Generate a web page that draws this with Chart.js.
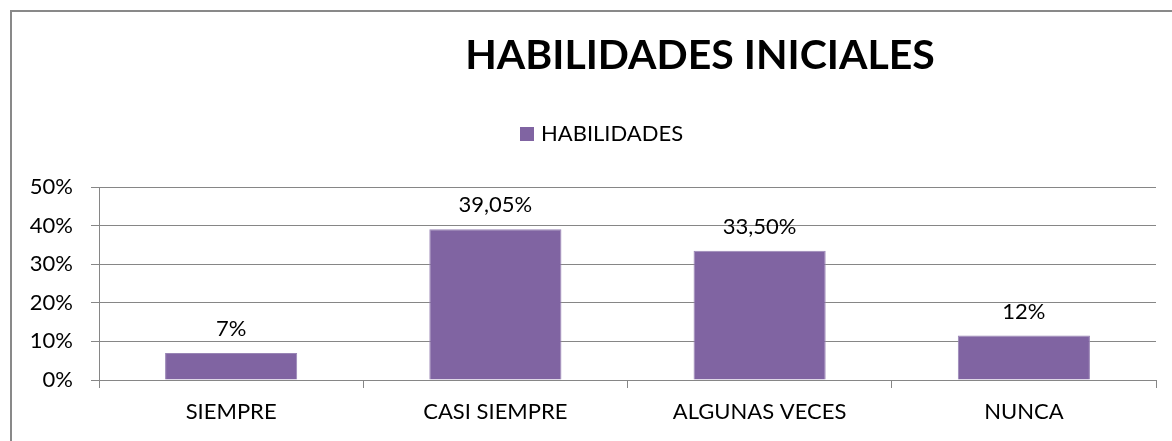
<!DOCTYPE html>
<html><head><meta charset="utf-8">
<script src="https://cdn.jsdelivr.net/npm/chart.js@4/dist/chart.umd.min.js"></script>
<style>
html,body{margin:0;padding:0;background:#fff;overflow:hidden;}
#wrap{position:absolute;left:0;top:0;width:1172px;height:441px;}
#frame{position:absolute;left:10px;top:10px;width:1300px;height:600px;border-left:2px solid #898989;border-top:2px solid #898989;}
#c{position:absolute;left:0;top:0;}
</style></head>
<body><div id="wrap"><div id="frame"></div><canvas id="c" width="1172" height="441"></canvas></div>
<script>
const categories = ["SIEMPRE", "CASI SIEMPRE", "ALGUNAS VECES", "NUNCA"];
const seriesName = "HABILIDADES";
const values = [0.07, 0.3905, 0.335, 0.115];
const valueLabels = ["7%", "39,05%", "33,50%", "12%"];
const chartTitle = "HABILIDADES INICIALES";
const yTicks = [0, 0.1, 0.2, 0.3, 0.4, 0.5];

const FONT = "Lato, 'Open Sans', sans-serif";
const BAR = "#8064A2";
const GRID = "#868686";

const overlay = {
  id: 'overlay',
  afterDatasetsDraw(chart) {
    const ctx = chart.ctx;
    ctx.save();
    // value labels
    ctx.fillStyle = '#000';
    ctx.font = "22px " + FONT;
    ctx.textAlign = 'center';
    ctx.textBaseline = 'alphabetic';
    const meta = chart.getDatasetMeta(0);
    meta.data.forEach((bar, i) => {
      ctx.fillText(valueLabels[i], bar.x, bar.y - 17);
    });
    // title
    ctx.font = "bold 41px " + FONT;
    ctx.textBaseline = 'middle';
    ctx.fillText(chartTitle, 700, 56);
    // legend
    ctx.fillStyle = BAR;
    ctx.fillRect(520, 127, 14, 14);
    ctx.fillStyle = '#000';
    ctx.font = "22px " + FONT;
    ctx.textAlign = 'left';
    ctx.fillText(seriesName, 541, 134);
    ctx.restore();
  }
};

new Chart(document.getElementById('c'), {
  type: 'bar',
  data: {
    labels: categories,
    datasets: [{
      label: seriesName,
      data: values,
      backgroundColor: BAR,
      borderColor: '#9985b5',
      borderWidth: 1,
      categoryPercentage: 0.5,
      barPercentage: 1.0
    }]
  },
  options: {
    responsive: false,
    animation: false,
    devicePixelRatio: 1,
    layout: { padding: { top: 187, right: 16, left: 0, bottom: 0 } },
    plugins: { legend: { display: false }, title: { display: false }, tooltip: { enabled: false } },
    scales: {
      x: {
        offset: true,
        grid: { display: true, drawOnChartArea: false, color: GRID, tickLength: 8, offset: true, lineWidth: 1 },
        border: { display: true, color: GRID, width: 1 },
        ticks: { color: '#000', font: { family: FONT, size: 22 }, padding: 11, maxRotation: 0 },
        afterFit(scale) { scale.height = 61; }
      },
      y: {
        min: 0, max: 0.5,
        afterBuildTicks(scale) { scale.ticks = yTicks.map(v => ({ value: v })); },
        grid: { color: GRID, tickLength: 8, lineWidth: 1 },
        border: { display: true, color: GRID, width: 1 },
        ticks: {
          color: '#000', font: { family: FONT, size: 22 }, padding: 18,
          callback: v => Math.round(v * 100) + '%'
        },
        afterFit(scale) { scale.width = 99; }
      }
    }
  },
  plugins: [overlay]
});
</script>
</body></html>
